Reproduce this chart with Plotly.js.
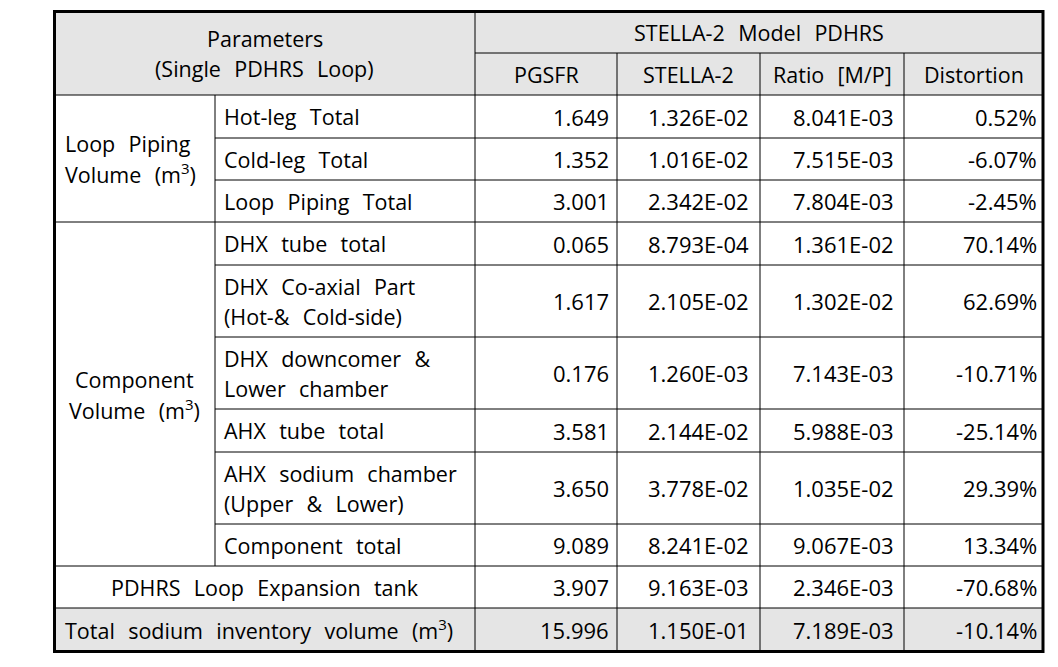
<!DOCTYPE html>
<html>
<head>
<meta charset="utf-8">
<script src="https://cdn.plot.ly/plotly-3.0.1.min.js"></script>
<style>
  body { margin: 0; background: #fff; }
  #table_plot { width: 1058px; height: 667px; }
</style>
</head>
<body>
<div id="table_plot"></div>
<script>
// table data
var groupLabels = ["Loop Piping<br>Volume (m<sup>3</sup>)", "Component<br>Volume (m<sup>3</sup>)"];
var groupRows = [[0, 2], [3, 8]];   // first and last body row of each group
var groupAlign = ["left", "center"];

var itemLabels = [
  "Hot-leg Total",
  "Cold-leg Total",
  "Loop Piping Total",
  "DHX tube total",
  "DHX Co-axial Part<br>(Hot-& Cold-side)",
  "DHX downcomer &<br>Lower chamber",
  "AHX tube total",
  "AHX sodium chamber<br>(Upper & Lower)",
  "Component total",
  "PDHRS Loop Expansion tank",
  "Total sodium inventory volume (m<sup>3</sup>)"
];

var pgsfr = [1.649, 1.352, 3.001, 0.065, 1.617, 0.176, 3.581, 3.650, 9.089, 3.907, 15.996];
var stella2 = [1.326e-2, 1.016e-2, 2.342e-2, 8.793e-4, 2.105e-2, 1.260e-3, 2.144e-2, 3.778e-2, 8.241e-2, 9.163e-3, 1.150e-1];
var ratioMP = [8.041e-3, 7.515e-3, 7.804e-3, 1.361e-2, 1.302e-2, 7.143e-3, 5.988e-3, 1.035e-2, 9.067e-3, 2.346e-3, 7.189e-3];
var distortion = [0.52, -6.07, -2.45, 70.14, 62.69, -10.71, -25.14, 29.39, 13.34, -70.68, -10.14];

var headerTop = "Parameters<br>(Single PDHRS Loop)";
var headerModel = "STELLA-2 Model PDHRS";
var colHeaders = ["PGSFR", "STELLA-2", "Ratio [M/P]", "Distortion"];

// layout of the grid (pixels)
var colEdges = [54.5, 215, 475, 617, 760, 904, 1043];
var rowEdges = [11.5, 53, 95, 138, 180, 222, 265, 337, 409, 452, 524, 566, 608, 651.5];
var numPad = [6, 9, 8, 4];   // right padding for the number columns
var grayFill = "#e5e5e5";
var labelSize = 21.5;
var numSize = 22;
var lineGap = 30;
var pad = 7;

function sci(v) {
  var parts = v.toExponential(3).split("e");
  var n = parseInt(parts[1]);
  return parts[0] + "E" + (n < 0 ? "-" : "+") + String(Math.abs(n)).padStart(2, "0");
}

// wide word gaps like the original (2 nbsp + hair space)
function wide(s) {
  return s.replace(/ /g, "\u00a0\u00a0\u200a");
}

var shapes = [];
var annotations = [];

function hline(x0, x1, y, w) {
  shapes.push({type: "line", xref: "x", yref: "y", x0: x0, x1: x1, y0: y, y1: y,
               line: {color: "#000", width: w || 1}});
}
function vline(x, y0, y1, w) {
  shapes.push({type: "line", xref: "x", yref: "y", x0: x, x1: x, y0: y0, y1: y1,
               line: {color: "#000", width: w || 1}});
}
// one annotation per line so the line spacing can be set
function text(s, x, y, anchor, size) {
  var lines = s.split("<br>");
  lines.forEach(function (ln, k) {
    annotations.push({text: wide(ln), x: x, y: y + (k - (lines.length - 1) / 2) * lineGap,
                      xref: "x", yref: "y", xanchor: anchor, yanchor: "middle", align: anchor,
                      showarrow: false, font: {size: size || labelSize, color: "#000"}});
  });
}
function rowMid(i) { // body row i
  return (rowEdges[i + 2] + rowEdges[i + 3]) / 2;
}

var L = colEdges[0], R = colEdges[colEdges.length - 1];
var T = rowEdges[0], B = rowEdges[rowEdges.length - 1];
var nBody = pgsfr.length;

// gray backgrounds: header and total row
shapes.push({type: "rect", xref: "x", yref: "y", x0: L, x1: R, y0: T, y1: rowEdges[2],
             fillcolor: grayFill, line: {width: 0}, layer: "below"});
shapes.push({type: "rect", xref: "x", yref: "y", x0: L, x1: R, y0: rowEdges[rowEdges.length - 2], y1: B,
             fillcolor: grayFill, line: {width: 0}, layer: "below"});

// header lines
hline(colEdges[2], R, rowEdges[1]);
hline(L, R, rowEdges[2]);
vline(colEdges[2], T, B);
for (var c = 3; c < colEdges.length - 1; c++) {
  vline(colEdges[c], rowEdges[1], B);
}

// body row lines
for (var i = 0; i < nBody - 1; i++) {
  var y = rowEdges[i + 3];
  var inGroup = false;
  groupRows.forEach(function (g) { if (i >= g[0] && i < g[1]) inGroup = true; });
  hline(inGroup ? colEdges[1] : L, R, y);
}
// column 1/2 divider only where groups are
groupRows.forEach(function (g) {
  vline(colEdges[1], rowEdges[g[0] + 2], rowEdges[g[1] + 3]);
});

// outer border
shapes.push({type: "rect", xref: "x", yref: "y", x0: L, x1: R, y0: T, y1: B,
             line: {color: "#000", width: 3}});

// header text
text(headerTop, (L + colEdges[2]) / 2, (T + rowEdges[2]) / 2, "center");
text(headerModel, (colEdges[2] + R) / 2, (T + rowEdges[1]) / 2, "center");
colHeaders.forEach(function (h, k) {
  text(h, (colEdges[k + 2] + colEdges[k + 3]) / 2, (rowEdges[1] + rowEdges[2]) / 2, "center");
});

// group labels
groupLabels.forEach(function (g, k) {
  var yMid = (rowEdges[groupRows[k][0] + 2] + rowEdges[groupRows[k][1] + 3]) / 2;
  if (groupAlign[k] == "left") {
    text(g, L + pad + 1, yMid, "left");
  } else {
    text(g, (L + colEdges[1]) / 2, yMid, "center");
  }
});

// body text
for (var i = 0; i < nBody; i++) {
  var ym = rowMid(i);
  if (i == nBody - 2) {
    text(itemLabels[i], (L + colEdges[2]) / 2, ym, "center");
  } else if (i == nBody - 1) {
    text(itemLabels[i], L + pad + 1, ym, "left");
  } else {
    text(itemLabels[i], colEdges[1] + pad, ym, "left");
  }
  text(pgsfr[i].toFixed(3), colEdges[3] - numPad[0], ym, "right", numSize);
  text(sci(stella2[i]), colEdges[4] - numPad[1], ym, "right", numSize);
  text(sci(ratioMP[i]), colEdges[5] - numPad[2], ym, "right", numSize);
  text(distortion[i].toFixed(2) + "%", R - numPad[3], ym, "right", numSize);
}

var layout = {
  width: 1058,
  height: 667,
  margin: {l: 0, r: 0, t: 0, b: 0},
  paper_bgcolor: "#fff",
  plot_bgcolor: "#fff",
  font: {family: "'Open Sans', 'Noto Sans', sans-serif", size: labelSize, color: "#000"},
  xaxis: {range: [0, 1058], visible: false, fixedrange: true},
  yaxis: {range: [667, 0], visible: false, fixedrange: true},
  shapes: shapes,
  annotations: annotations,
  showlegend: false
};

Plotly.newPlot("table_plot", [], layout, {staticPlot: true});
</script>
</body>
</html>
